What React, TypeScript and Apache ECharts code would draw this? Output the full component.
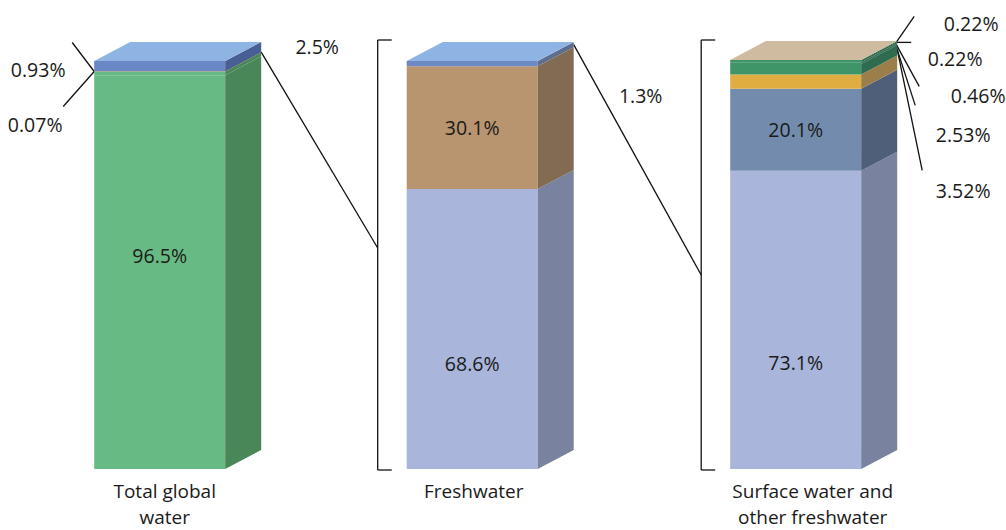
import { useEffect, useRef } from "react";
import * as echarts from "echarts";

// ---------- data ----------
const categories = ["Total global\nwater", "Freshwater", "Surface water and\nother freshwater"];
// stacked from bottom to top (percent)
const totalGlobalWater = [96.5, 0.93, 0.07, 2.5];
const freshwater = [68.6, 30.1, 1.3];
const surfaceAndOther = [73.1, 20.1, 3.52, 2.53, 0.46, 0.22, 0.22];
const barValues = [totalGlobalWater, freshwater, surfaceAndOther];
// segments whose value is written on the bar face
const insideLabelled = [[0], [0, 1], [0, 1]];

// ---------- styles ----------
const frontColors = [
  ["#68BA84", "#68BA84", "#C8955F", "#6B88C6"],
  ["#A9B5DA", "#B8956F", "#6C89C4"],
  ["#A9B5DA", "#738CAD", "#E0AE40", "#3F9568", "#3F9568", "#3F9568", "#3F9568"],
];
const sideColors = [
  ["#4A8758", "#4A8758", "#A07A50", "#475F94"],
  ["#79829E", "#836A52", "#5F6E8C"],
  ["#79829E", "#4F5F79", "#9B7E4A", "#2F6C4F", "#2F6C4F", "#2F6C4F", "#2F6C4F"],
];
const topColors = ["#8EB4E3", "#8EB4E3", "#CEBBA0"];
const labelShift: Record<string, number> = { "0-0": -17, "1-0": 34, "2-0": 43 };
const barNudge = [2, -3.5, 2];

const W = 131;
const DX = 36;
const DY = -19;
const FONT = '"Open Sans", "Noto Sans", sans-serif';
const FS = 19.5;
const AXFS = 19;
const TXT = "#1a1a1a";

const pct = (v: number) => `${v}%`;

export default function App() {
  const ref = useRef<HTMLDivElement>(null);
  useEffect(() => {
    if (!ref.current) return;
    const chart = echarts.init(ref.current, undefined, { renderer: "svg" });

    const items: number[][] = [];
    barValues.forEach((vals, ci) => {
      let acc = 0;
      vals.forEach((v, si) => {
        items.push([ci, acc, acc + v, si, si === vals.length - 1 ? 1 : 0]);
        acc += v;
      });
    });

    const renderItem = (_params: any, api: any) => {
      const ci = api.value(0);
      const s = api.value(1);
      const e = api.value(2);
      const si = api.value(3);
      const isTop = api.value(4);
      const b = api.coord([ci, s]);
      const t = api.coord([ci, e]);
      const cx = b[0] + barNudge[ci];
      const x0 = cx - W / 2;
      const x1 = cx + W / 2;
      const yb = b[1];
      let yt = t[1];
      if (yb - yt < 1.4) yt = yb - 1.4;
      const children: any[] = [
        {
          type: "rect",
          shape: { x: x0, y: yt, width: W, height: yb - yt },
          style: { fill: frontColors[ci][si] },
        },
        {
          type: "polygon",
          shape: {
            points: [
              [x1, yt],
              [x1 + DX, yt + DY],
              [x1 + DX, yb + DY],
              [x1, yb],
            ],
          },
          style: { fill: sideColors[ci][si] },
        },
      ];
      if (isTop) {
        children.push({
          type: "polygon",
          shape: {
            points: [
              [x0, yt],
              [x0 + DX, yt + DY],
              [x1 + DX, yt + DY],
              [x1, yt],
            ],
          },
          style: { fill: topColors[ci] },
        });
      }
      if (insideLabelled[ci].includes(si)) {
        children.push({
          type: "text",
          style: {
            text: pct(barValues[ci][si]),
            x: cx,
            y: (yb + yt) / 2 + (labelShift[`${ci}-${si}`] || 0),
            align: "center",
            verticalAlign: "middle",
            fill: TXT,
            fontSize: FS,
            fontFamily: FONT,
          },
        });
      }
      return { type: "group", children };
    };

    chart.setOption({
      animation: false,
      backgroundColor: "#ffffff",
      grid: { left: 157.7, right: 212.3, top: 61, bottom: 59 },
      xAxis: {
        type: "category",
        data: categories,
        boundaryGap: false,
        axisLine: { show: false },
        axisTick: { show: false },
        splitLine: { show: false },
        axisLabel: {
          margin: 9,
          color: TXT,
          fontSize: AXFS,
          fontFamily: FONT,
          lineHeight: 26,
          formatter: (v: string, i: number) => {
            const key = i === 0 ? "a" : i === 2 ? "c" : "b";
            return v
              .split("\n")
              .map((l) => `{${key}|${l}}`)
              .join("\n");
          },
          rich: {
            a: { fontSize: AXFS, fontFamily: FONT, color: TXT, lineHeight: 26, padding: [0, 0, 0, 14] },
            b: { fontSize: AXFS, fontFamily: FONT, color: TXT, lineHeight: 26, padding: [0, 4, 0, 0] },
            c: { fontSize: AXFS, fontFamily: FONT, color: TXT, lineHeight: 26, padding: [0, 0, 0, 38] },
          },
        },
      },
      yAxis: { type: "value", min: 0, max: 100, show: false },
      series: [
        {
          type: "custom",
          renderItem,
          data: items,
          clip: false,
        },
      ],
    });

    // ---------- annotations anchored to the bars ----------
    const P = (c: number, v: number) => {
      const p = chart.convertToPixel({ gridIndex: 0 }, [c, v]) as number[];
      return [p[0] + barNudge[c], p[1]];
    };
    const line = (a: number[], b: number[]) => ({
      type: "line",
      shape: { x1: a[0], y1: a[1], x2: b[0], y2: b[1] },
      style: { stroke: "#111", lineWidth: 1.3 },
      silent: true,
    });
    const label = (text: string, p: number[]) => ({
      type: "text",
      style: {
        text,
        x: p[0],
        y: p[1],
        align: "center",
        verticalAlign: "middle",
        fill: TXT,
        fontSize: FS,
        fontFamily: FONT,
      },
      silent: true,
    });
    const add = (p: number[], d: number[]) => [p[0] + d[0], p[1] + d[1]];

    const g: any[] = [];
    // bar 1 left annotations
    const c1 = P(0, 0)[0];
    const a1 = [c1 - W / 2, P(0, totalGlobalWater[0] + totalGlobalWater[1])[1]];
    g.push(line(a1, add(a1, [-22, -29])));
    g.push(line(a1, add(a1, [-31, 35])));
    g.push(label(pct(totalGlobalWater[1]), add(a1, [-56, -2])));
    g.push(label(pct(totalGlobalWater[2]), add(a1, [-59, 53])));

    // bracket helper
    const bracket = (ci: number) => {
      const cx = P(ci, 0)[0];
      const x = cx - W / 2 - 29;
      const yTop = P(ci, 100)[1] + DY - 2;
      const yBot = P(ci, 0)[1] + 1;
      g.push(line([x, yTop], [x, yBot]));
      g.push(line([x, yTop], [x + 14, yTop]));
      g.push(line([x, yBot], [x + 14, yBot]));
      return { x, yTop, yBot };
    };
    const br2 = bracket(1);
    const br3 = bracket(2);

    // connector bar 1 -> freshwater
    const s1 = [c1 + W / 2 + DX, P(0, 100 - totalGlobalWater[3])[1] + DY];
    g.push(line(s1, [br2.x, br2.yTop + 208]));
    g.push(label(pct(totalGlobalWater[3]), add(s1, [56, -6])));

    // connector bar 2 -> surface water
    const c2 = P(1, 0)[0];
    const s2 = [c2 + W / 2 + DX, P(1, 100 - freshwater[2] / 2)[1] + DY];
    g.push(line(s2, [br3.x, br3.yTop + 235]));
    g.push(label(pct(freshwater[2]), add(s2, [67, 51])));

    // bar 3 fan of small shares
    const c3 = P(2, 0)[0];
    const total3 = surfaceAndOther.reduce((a, b) => a + b, 0);
    const k = [c3 + W / 2 + DX - 1, P(2, total3)[1] + DY + 1];
    g.push(line(k, add(k, [18, -26])));
    g.push(line(k, add(k, [15, 0])));
    g.push(line(add(k, [0, 2]), add(k, [23, 44])));
    g.push(line(add(k, [0, 4]), add(k, [19, 63])));
    g.push(line(add(k, [1, 7]), add(k, [26, 128])));
    g.push(label(pct(surfaceAndOther[6]), add(k, [75, -19])));
    g.push(label(pct(surfaceAndOther[5]), add(k, [59, 16])));
    g.push(label(pct(surfaceAndOther[4]), add(k, [82, 53])));
    g.push(label(pct(surfaceAndOther[3]), add(k, [67, 92])));
    g.push(label(pct(surfaceAndOther[2]), add(k, [67, 148])));

    chart.setOption({ graphic: g });

    return () => chart.dispose();
  }, []);

  return (
    <div
      ref={ref}
      style={{ position: "fixed", left: 0, top: 0, width: 1006, height: 530, background: "#fff" }}
    />
  );
}
